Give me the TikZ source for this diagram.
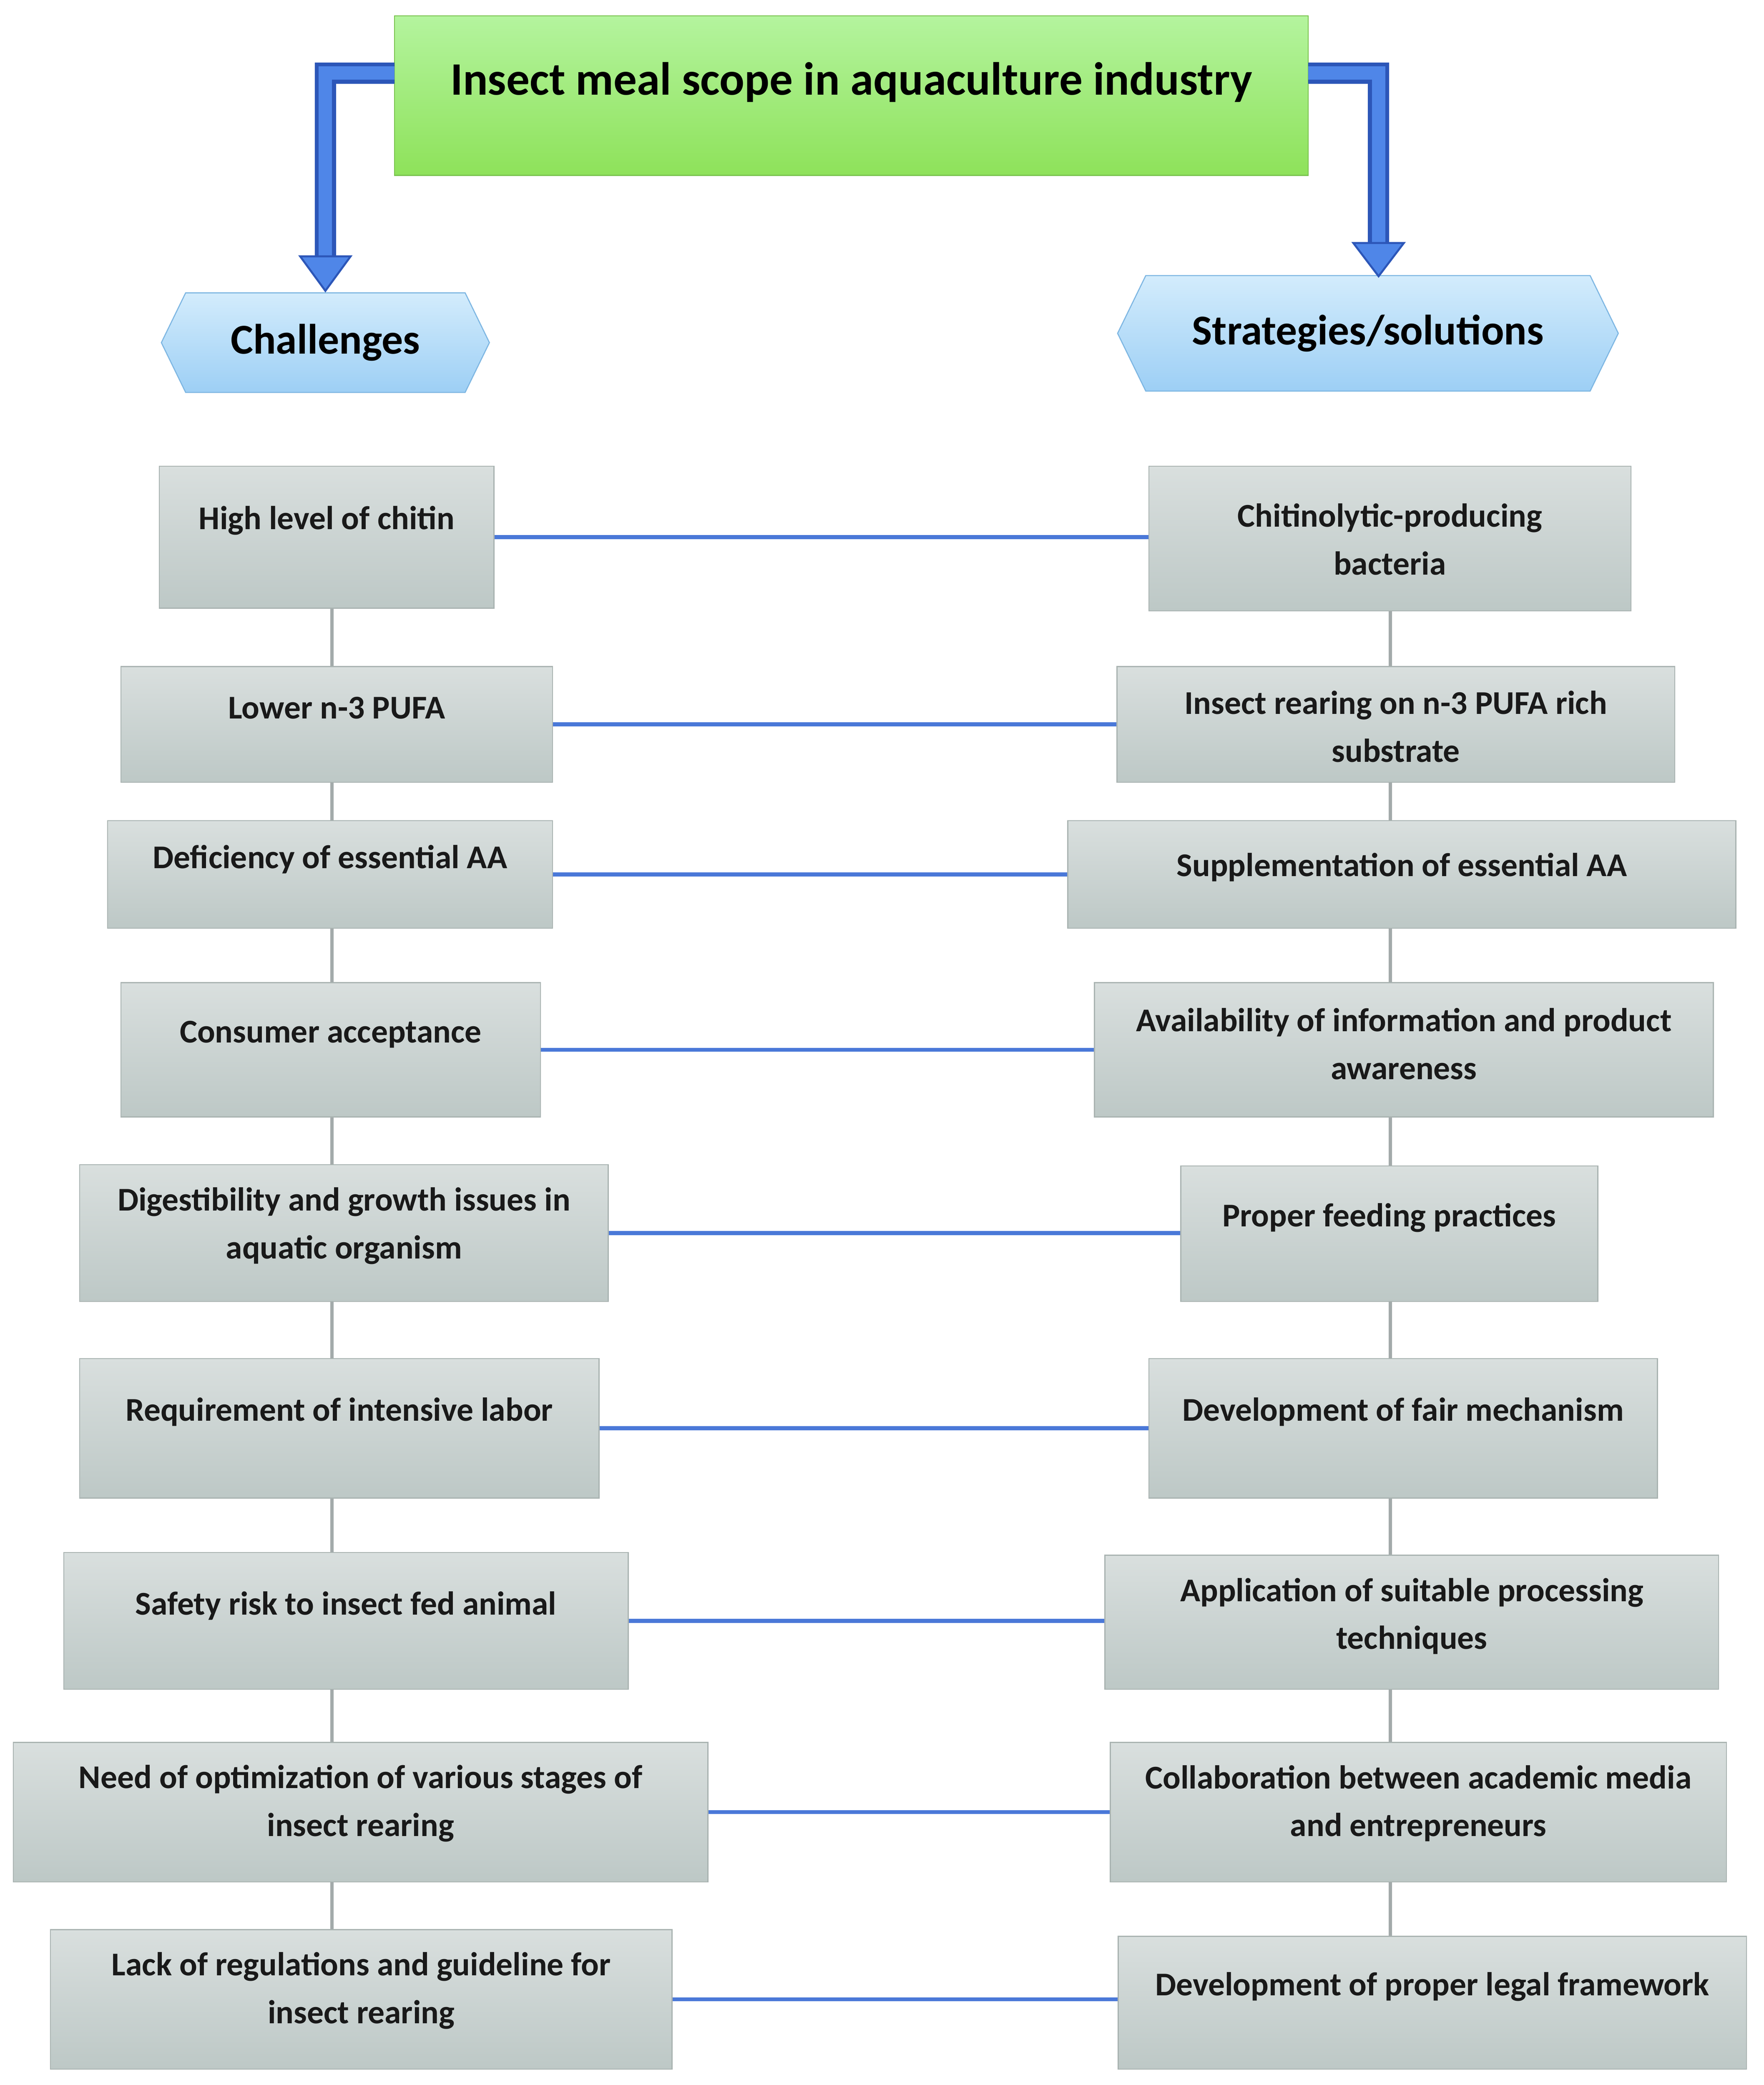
\documentclass[tikz,border=0pt]{standalone}
\usepackage{fontspec}
\setmainfont{Carlito}
\usetikzlibrary{shapes.symbols}
\definecolor{boxT}{HTML}{D9DFDE}
\definecolor{boxB}{HTML}{BDC8C6}
\definecolor{boxD}{HTML}{A9B3B1}
\definecolor{lineB}{HTML}{4A78D8}
\definecolor{vline}{HTML}{A3AAAA}
\definecolor{hexT}{HTML}{D3ECFC}
\definecolor{hexB}{HTML}{9DCFF5}
\definecolor{hexD}{HTML}{7DB6E2}
\definecolor{grT}{HTML}{B4F49E}
\definecolor{grB}{HTML}{8EE25A}
\definecolor{grD}{HTML}{78C24C}
\definecolor{arrD}{HTML}{2C56B8}
\definecolor{arrF}{HTML}{4F86E8}
\tikzset{
  box/.style={draw=boxD,line width=0.8pt,top color=boxT,bottom color=boxB,inner sep=0pt},
  txt/.style={font=\bfseries\fontsize{25}{36}\selectfont,align=center,inner sep=0pt,text=black!90},
  conn/.style={draw=lineB,line width=3pt},
  vconn/.style={draw=vline,line width=2.5pt},
  hex/.style={shape=signal,signal to=west and east,signal pointer angle=128,draw=hexD,line width=0.8pt,top color=hexT,bottom color=hexB,inner sep=0pt,font=\bfseries\fontsize{32}{36}\selectfont},
  bigarrow/.style={draw=arrD,line width=16pt},
  bigarrowin/.style={draw=arrF,line width=10pt},
}
\newcommand{\bx}[7]{%
  \node[box,minimum width={#4-#2},minimum height={#5-#3}] (#1) at ({(#2+#4)/2},{(#3+#5)/2}) {};
  \node[txt] (#1t) at ({(#2+#4)/2},#6) {#7};}
\begin{document}
\begin{tikzpicture}[x=1pt,y=-1pt]
\useasboundingbox (0,0) rectangle (1328,1570);
\node[draw=grD,line width=0.8pt,top color=grT,bottom color=grB,minimum width=688,minimum height=120,inner sep=0pt] (title) at (641,72) {};
\node[font=\bfseries\fontsize{35}{40}\selectfont] (titlet) at (641,62) {Insect meal scope in aquaculture industry};
\node[hex,minimum width=247,minimum height=75] (chal) at (245,258) {Challenges};
\node[hex,minimum width=377,minimum height=87] (strat) at (1030,251) {Strategies/solutions};
\coordinate (la1) at (297,55); \coordinate (la2) at (245,55); \coordinate (la3) at (245,196);
\coordinate (ra1) at (985,55); \coordinate (ra2) at (1038,55); \coordinate (ra3) at (1038,186);
\draw[bigarrow] (la1) -- (la2) -- (la3);
\draw[bigarrow] (ra1) -- (ra2) -- (ra3);
\draw[bigarrowin] (la1) -- (la2) -- (la3);
\draw[bigarrowin] (ra1) -- (ra2) -- (ra3);
\fill[arrF,draw=arrD,line width=1.5pt] (226,193) -- (264,193) -- (245,219) -- cycle;
\fill[arrF,draw=arrD,line width=1.5pt] (1019,183) -- (1057,183) -- (1038,208) -- cycle;
\bx{l1}{120}{351}{372}{458}{392}{High level of chitin}
\bx{l2}{91}{502}{416}{589}{533}{Lower n-3 PUFA}
\bx{l3}{81}{618}{416}{699}{647}{Deficiency of essential AA}
\bx{l4}{91}{740}{407}{841}{779}{Consumer acceptance}
\bx{l5}{60}{877}{458}{980}{923}{Digestibility and growth issues in\\aquatic organism}
\bx{l6}{60}{1023}{451}{1128}{1063}{Requirement of intensive labor}
\bx{l7}{48}{1169}{473}{1272}{1209}{Safety risk to insect fed animal}
\bx{l8}{10}{1312}{533}{1417}{1358}{Need of optimization of various stages of\\insect rearing}
\bx{l9}{38}{1453}{506}{1558}{1499}{Lack of regulations and guideline for\\insect rearing}
\bx{r1}{865}{351}{1228}{460}{406}{Chitinolytic-producing\\bacteria}
\bx{r2}{841}{502}{1261}{589}{547}{Insect rearing on n-3 PUFA rich\\substrate}
\bx{r3}{804}{618}{1307}{699}{653}{Supplementation of essential AA}
\bx{r4}{824}{740}{1290}{841}{786}{Availability of information and product\\awareness}
\bx{r5}{889}{878}{1203}{980}{917}{Proper feeding practices}
\bx{r6}{865}{1023}{1248}{1128}{1063}{Development of fair mechanism}
\bx{r7}{832}{1171}{1294}{1272}{1217}{Application of suitable processing\\techniques}
\bx{r8}{836}{1312}{1300}{1417}{1358}{Collaboration between academic media\\and entrepreneurs}
\bx{r9}{842}{1458}{1315}{1558}{1496}{Development of proper legal framework}
\coordinate (cL) at (250,0); \coordinate (cR) at (1047,0);
\foreach \a/\b in {1/2,2/3,3/4,4/5,5/6,6/7,7/8,8/9}{
  \draw[vconn] (l\a.south -| cL) -- (l\b.north -| cL);
  \draw[vconn] (r\a.south -| cR) -- (r\b.north -| cR);
}
\foreach \i in {1,...,9}{
  \draw[conn] (l\i.east) -- (l\i.east -| r\i.west);
}
\end{tikzpicture}
\end{document}
